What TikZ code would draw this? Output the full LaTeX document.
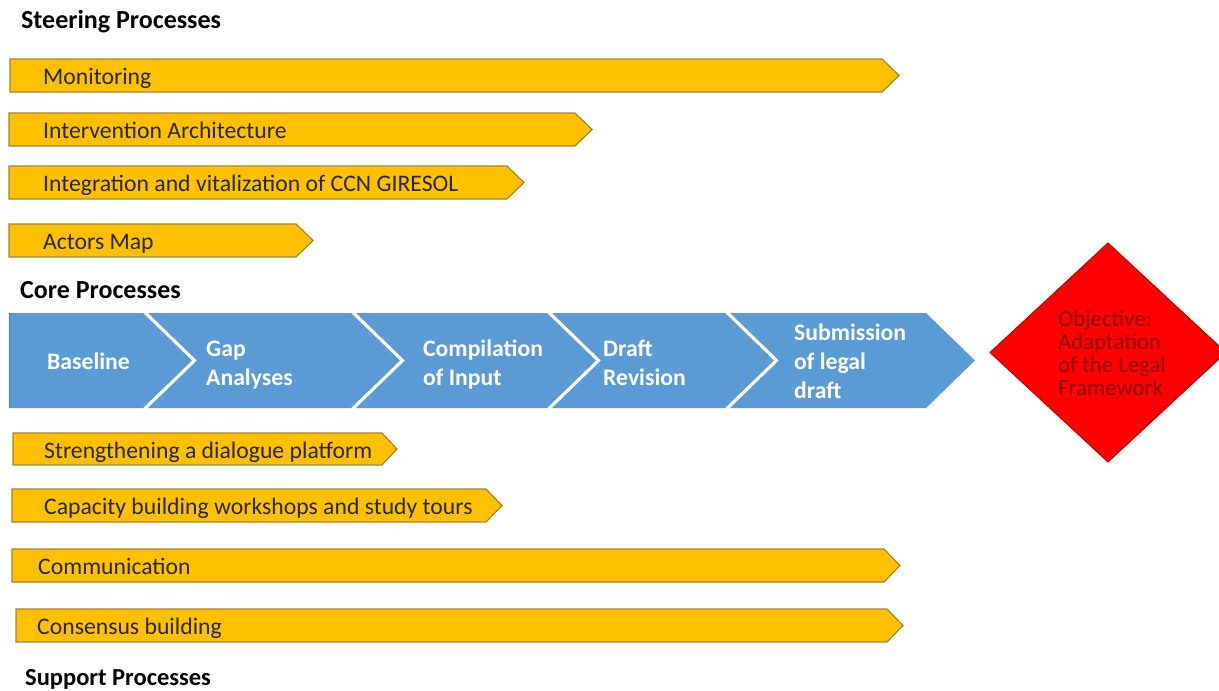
\documentclass[tikz,border=0pt]{standalone}
\usepackage{fontspec}
\setmainfont{Carlito}
\definecolor{barfill}{HTML}{FFC000}
\definecolor{barline}{HTML}{A08535}
\definecolor{bartextc}{HTML}{262626}
\definecolor{chevblue}{HTML}{5B9BD5}
\definecolor{chevline}{HTML}{4A86BE}
\definecolor{objfill}{HTML}{FF0000}
\definecolor{objline}{HTML}{C00000}
\definecolor{objtextc}{HTML}{8A0000}
\begin{document}
\begin{tikzpicture}[x=1pt,y=-1pt,
  bar/.style={fill=barfill,draw=barline,line width=1.2pt,line join=miter},
  bartext/.style={anchor=base west,inner sep=0pt,text=bartextc,font=\fontsize{23.7}{28}\selectfont},
  chev/.style={fill=chevblue},
  chevtext/.style={anchor=base west,inner sep=0pt,text=white,font=\bfseries\fontsize{23.7}{28}\selectfont},
  head/.style={anchor=base west,inner sep=0pt,text=black,font=\bfseries\fontsize{26}{30}\selectfont},
  objtext/.style={anchor=base west,inner sep=0pt,text=objtextc,font=\fontsize{22.8}{24}\selectfont}]

\useasboundingbox (0,0) rectangle (1219,691);
\fill[white] (0,0) rectangle (1219,691);

% headings
\node[head] (hsteer) at (21,28) {Steering Processes};
\node[head] (hcore) at (20,298) {Core Processes};
\node[head,font=\bfseries\fontsize{24.5}{29}\selectfont] (hsupport) at (25,685) {Support Processes};

% steering bars
\path[bar] (10,59) -- (882,59) -- (899,75.5) -- (882,92) -- (10,92) -- cycle;
\node[bartext] (monitoring) at (43,84.5) {Monitoring};
\path[bar] (9,113) -- (575,113) -- (592,129.5) -- (575,146) -- (9,146) -- cycle;
\node[bartext] (intervention) at (43,138.5) {Intervention Architecture};
\path[bar] (9,166) -- (507,166) -- (524,182.5) -- (507,199) -- (9,199) -- cycle;
\node[bartext] (integration) at (43,191.5) {Integration and vitalization of CCN GIRESOL};
\path[bar] (9,224) -- (296,224) -- (313,240.5) -- (296,257) -- (9,257) -- cycle;
\node[bartext] (actors) at (43,249.5) {Actors Map};

% core chevrons
\path[chev] (9,313) -- (143,313) -- (192,360.5) -- (143,408) -- (9,408) -- cycle;
\path[chev] (148,313) -- (351,313) -- (400,360.5) -- (351,408) -- (148,408) -- (197,360.5) -- cycle;
\path[chev] (356,313) -- (547,313) -- (596,360.5) -- (547,408) -- (356,408) -- (405,360.5) -- cycle;
\path[chev] (552,313) -- (725,313) -- (774,360.5) -- (725,408) -- (552,408) -- (601,360.5) -- cycle;
\path[chev] (730,313) -- (926,313) -- (975,360.5) -- (926,408) -- (730,408) -- (779,360.5) -- cycle;
\draw[chevline,line width=0.8pt] (9,313) -- (9,408);

\node[chevtext] (baseline) at (47,369) {Baseline};
\node[chevtext] (gap1) at (206,356) {Gap};
\node[chevtext] (gap2) at (206,385) {Analyses};
\node[chevtext] (comp1) at (423,356) {Compilation};
\node[chevtext] (comp2) at (423,385) {of Input};
\node[chevtext] (draft1) at (603,356) {Draft};
\node[chevtext] (draft2) at (603,385) {Revision};
\node[chevtext] (sub1) at (794,340) {Submission};
\node[chevtext] (sub2) at (794,369) {of legal};
\node[chevtext] (sub3) at (794,398) {draft};

% objective diamond
\path[fill=objfill,draw=objline,line width=1pt] (1108,243) -- (1226,352.5) -- (1108,462) -- (990,352.5) -- cycle;
\node[objtext] (obj1) at (1058,326) {Objective:};
\node[objtext] (obj2) at (1058,349) {Adaptation};
\node[objtext] (obj3) at (1058,372) {of the Legal};
\node[objtext] (obj4) at (1058,395) {Framework};

% support bars
\path[bar] (13,433) -- (382,433) -- (397,449) -- (382,465) -- (13,465) -- cycle;
\node[bartext] (dialogue) at (44,458) {Strengthening a dialogue platform};
\path[bar] (12,489) -- (486,489) -- (502,505.5) -- (486,522) -- (12,522) -- cycle;
\node[bartext] (capacity) at (44,514.5) {Capacity building workshops and study tours};
\path[bar] (12,549) -- (884,549) -- (900,565.5) -- (884,582) -- (12,582) -- cycle;
\node[bartext] (communication) at (38,574.5) {Communication};
\path[bar] (16,609) -- (887,609) -- (903,625.5) -- (887,642) -- (16,642) -- cycle;
\node[bartext] (consensus) at (37,634.5) {Consensus building};
\end{tikzpicture}
\end{document}
